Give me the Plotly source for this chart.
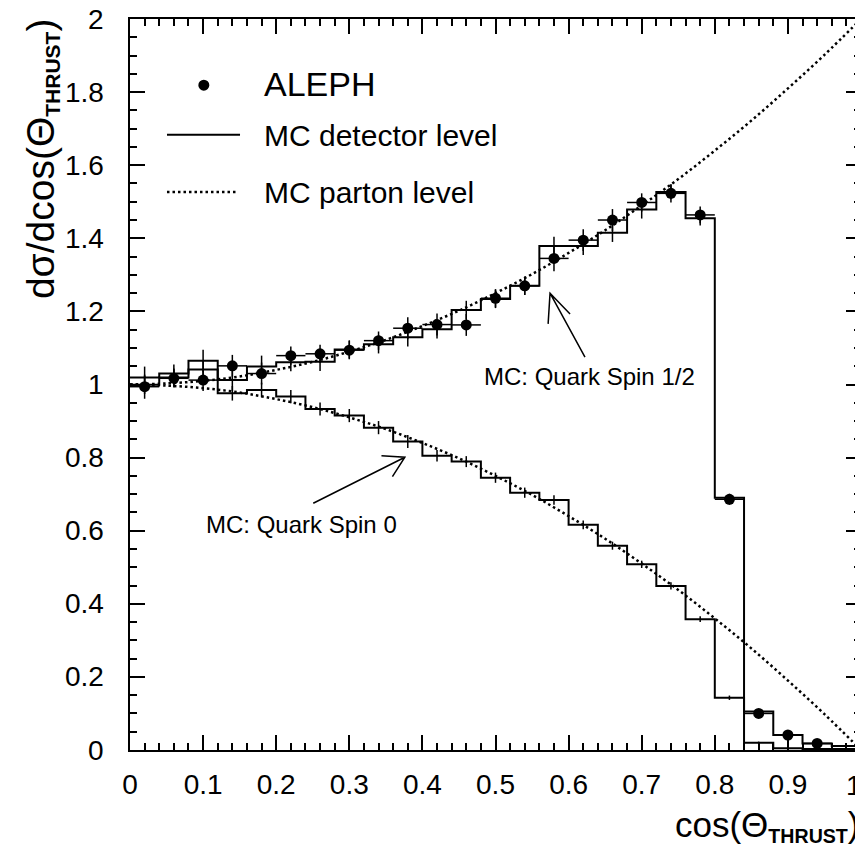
import plotly.graph_objects as go

# ---------------- data ----------------
bin_edges = [0.00, 0.04, 0.08, 0.12, 0.16, 0.20, 0.24, 0.28, 0.32, 0.36, 0.40, 0.44, 0.48,
             0.52, 0.56, 0.60, 0.64, 0.68, 0.72, 0.76, 0.80, 0.84, 0.88, 0.92, 0.96, 1.00]
bin_centers = [0.02, 0.06, 0.10, 0.14, 0.18, 0.22, 0.26, 0.30, 0.34, 0.38, 0.42, 0.46, 0.50,
               0.54, 0.58, 0.62, 0.66, 0.70, 0.74, 0.78, 0.82, 0.86, 0.90, 0.94, 0.98]

# ALEPH data points
aleph_x = [0.02, 0.06, 0.10, 0.14, 0.18, 0.22, 0.26, 0.30, 0.34, 0.38, 0.42, 0.46,
           0.50, 0.54, 0.58, 0.62, 0.66, 0.70, 0.74, 0.78, 0.82, 0.86, 0.90, 0.94]
aleph_y = [0.994, 1.017, 1.012, 1.051, 1.030, 1.079, 1.084, 1.094, 1.120, 1.154, 1.164, 1.163,
           1.236, 1.270, 1.345, 1.395, 1.450, 1.498, 1.523, 1.464, 0.686, 0.100, 0.041, 0.018]
aleph_err = [0.033, 0.025, 0.03, 0.03, 0.03, 0.025, 0.025, 0.025, 0.025, 0.03, 0.03, 0.03,
             0.025, 0.025, 0.035, 0.03, 0.03, 0.025, 0.025, 0.023, 0.015, 0.01, 0.008, 0.006]

# MC detector level, quark spin 1/2
mc_det_spin_half = [1.019, 1.030, 1.065, 1.012, 1.049, 1.061, 1.062, 1.096, 1.110, 1.129,
                    1.151, 1.204, 1.234, 1.270, 1.379, 1.379, 1.415, 1.479, 1.527, 1.455,
                    0.690, 0.105, 0.041, 0.018, 0.011]
mc_det_spin_half_err = [0.03, 0.025, 0.03, 0.03, 0.03, 0.025, 0.025, 0.025, 0.025, 0.025,
                        0.025, 0.025, 0.025, 0.025, 0.025, 0.025, 0.025, 0.025, 0.02, 0.02,
                        0.01, 0.006, 0.004, 0.003, 0.002]

# MC detector level, quark spin 0
mc_det_spin_zero = [0.999, 1.019, 1.041, 0.976, 0.985, 0.967, 0.933, 0.915, 0.882, 0.844,
                    0.805, 0.789, 0.745, 0.704, 0.684, 0.616, 0.559, 0.508, 0.449, 0.358,
                    0.143, 0.020, 0.005, 0.003, 0.003]
mc_det_spin_zero_err = [0.025, 0.025, 0.025, 0.02, 0.02, 0.018, 0.018, 0.018, 0.018, 0.018,
                        0.016, 0.015, 0.014, 0.014, 0.013, 0.012, 0.011, 0.01, 0.01, 0.008,
                        0.006, 0.003, 0.002, 0.001, 0.001]

# MC parton level curves
parton_x = [0.00, 0.05, 0.10, 0.15, 0.20, 0.25, 0.30, 0.35, 0.40, 0.45, 0.50,
            0.55, 0.60, 0.65, 0.70, 0.75, 0.80, 0.85, 0.90, 0.95, 1.00]
parton_spin_half = [1.000, 1.003, 1.010, 1.022, 1.040, 1.062, 1.090, 1.122, 1.160, 1.202, 1.250,
                    1.302, 1.360, 1.422, 1.490, 1.562, 1.640, 1.722, 1.810, 1.902, 2.000]
parton_spin_zero = [1.000, 0.997, 0.990, 0.978, 0.960, 0.938, 0.910, 0.878, 0.840, 0.798, 0.750,
                    0.698, 0.640, 0.578, 0.510, 0.438, 0.360, 0.278, 0.190, 0.098, 0.000]

x_tickvals = [0, 0.1, 0.2, 0.3, 0.4, 0.5, 0.6, 0.7, 0.8, 0.9, 1.0]
x_ticktext = ["0", "0.1", "0.2", "0.3", "0.4", "0.5", "0.6", "0.7", "0.8", "0.9", "1"]
y_tickvals = [0, 0.2, 0.4, 0.6, 0.8, 1.0, 1.2, 1.4, 1.6, 1.8, 2.0]
y_ticktext = ["0", "0.2", "0.4", "0.6", "0.8", "1", "1.2", "1.4", "1.6", "1.8", "2"]

FONT = "Liberation Sans, Arial, sans-serif"
BLACK = "black"
DOT = "2.5px,3px"

fig = go.Figure()

# parton level dotted curves
for ys in (parton_spin_half, parton_spin_zero):
    fig.add_trace(go.Scatter(x=parton_x, y=ys, mode="lines",
                             line=dict(color=BLACK, width=2.5, dash=DOT, shape="spline"),
                             showlegend=False, hoverinfo="skip"))

# detector level histograms
for vals, errs in ((mc_det_spin_half, mc_det_spin_half_err), (mc_det_spin_zero, mc_det_spin_zero_err)):
    fig.add_trace(go.Scatter(x=bin_edges, y=vals + [vals[-1]], mode="lines",
                             line=dict(color=BLACK, width=2, shape="hv"),
                             showlegend=False, hoverinfo="skip"))
    fig.add_trace(go.Scatter(x=bin_centers, y=vals, mode="markers",
                             marker=dict(size=1, color=BLACK, opacity=0),
                             error_y=dict(type="data", array=errs, color=BLACK, thickness=1.5, width=0),
                             showlegend=False, hoverinfo="skip"))

# ALEPH points
fig.add_trace(go.Scatter(x=aleph_x, y=aleph_y, mode="markers",
                         marker=dict(size=11, color=BLACK, symbol="circle"),
                         error_y=dict(type="data", array=aleph_err, color=BLACK, thickness=1.5, width=0),
                         error_x=dict(type="constant", value=0.02, color=BLACK, thickness=1.5, width=0),
                         showlegend=False))

# ---------------- legend (drawn manually) ----------------
shapes = []
annotations = []
# ALEPH dot
shapes.append(dict(type="circle", xref="x", yref="y", xsizemode="pixel", ysizemode="pixel",
                   xanchor=0.101, yanchor=1.819, x0=-5.5, x1=5.5, y0=-5.5, y1=5.5,
                   fillcolor=BLACK, line=dict(color=BLACK, width=0)))
annotations.append(dict(x=0.180, y=1.822, xref="x", yref="y", text="ALEPH", showarrow=False,
                        xanchor="left", yanchor="middle", font=dict(family=FONT, size=34, color=BLACK)))
# detector level
shapes.append(dict(type="line", xref="x", yref="y", x0=0.0506, x1=0.1505, y0=1.683, y1=1.683,
                   line=dict(color=BLACK, width=2)))
annotations.append(dict(x=0.181, y=1.680, xref="x", yref="y", text="MC detector level", showarrow=False,
                        xanchor="left", yanchor="middle", font=dict(family=FONT, size=30, color=BLACK)))
# parton level
shapes.append(dict(type="line", xref="x", yref="y", x0=0.0506, x1=0.1464, y0=1.527, y1=1.527,
                   line=dict(color=BLACK, width=2.5, dash=DOT)))
annotations.append(dict(x=0.181, y=1.524, xref="x", yref="y", text="MC parton level", showarrow=False,
                        xanchor="left", yanchor="middle", font=dict(family=FONT, size=30, color=BLACK)))

# ---------------- arrows and labels ----------------
def arrow_path(tail, head, arm1, arm2):
    return (f"M {tail[0]},{tail[1]} L {head[0]},{head[1]} "
            f"M {arm1[0]},{arm1[1]} L {head[0]},{head[1]} L {arm2[0]},{arm2[1]}")

shapes.append(dict(type="path", xref="x", yref="y",
                   path=arrow_path((0.6224, 1.075), (0.5746, 1.250), (0.572, 1.166), (0.602, 1.193)),
                   line=dict(color=BLACK, width=1.5)))
annotations.append(dict(x=0.481, y=1.023, xref="x", yref="y", text="MC: Quark Spin 1/2", showarrow=False,
                        xanchor="left", yanchor="middle", font=dict(family=FONT, size=24, color=BLACK)))

shapes.append(dict(type="path", xref="x", yref="y",
                   path=arrow_path((0.2507, 0.675), (0.376, 0.801), (0.344, 0.805), (0.359, 0.748)),
                   line=dict(color=BLACK, width=1.5)))
annotations.append(dict(x=0.101, y=0.616, xref="x", yref="y", text="MC: Quark Spin 0", showarrow=False,
                        xanchor="left", yanchor="middle", font=dict(family=FONT, size=24, color=BLACK)))

# y tick labels (placed as text so they sit at the reference distance from the axis)
for v, t in zip(y_tickvals, y_ticktext):
    annotations.append(dict(x=-0.0325, y=v, xref="paper", yref="y", text=t, showarrow=False,
                            xanchor="right", yanchor="middle",
                            font=dict(family=FONT, size=28, color=BLACK)))
# last x tick label sits at the right edge of the page
annotations.append(dict(x=1.0035, y=-0.048, xref="paper", yref="paper", text=x_ticktext[-1],
                        showarrow=False, xanchor="right", yanchor="middle",
                        font=dict(family=FONT, size=28, color=BLACK)))

# axis titles
sub = '<span style="font-size:28px"><sub><b>THRUST</b></sub></span>'
annotations.append(dict(x=0.743, y=-0.104, xref="paper", yref="paper",
                        text="cos(Θ" + sub + ")", showarrow=False,
                        xanchor="left", yanchor="middle", font=dict(family=FONT, size=35, color=BLACK)))
suby = '<span style="font-size:30px"><sub><b>THRUST</b></sub></span>'
annotations.append(dict(x=-0.121, y=1.002, xref="paper", yref="paper", textangle=-90,
                        text="dσ/dcos(Θ" + suby + ")", showarrow=False,
                        xanchor="center", yanchor="top", font=dict(family=FONT, size=39, color=BLACK)))

axis_common = dict(showline=True, linewidth=2, linecolor=BLACK, mirror="ticks",
                   ticks="inside", tickwidth=1.5, tickcolor=BLACK, ticklen=15,
                   showgrid=False, zeroline=False, automargin=False,
                   tickfont=dict(family=FONT, size=28, color=BLACK))

fig.update_xaxes(range=[0, 1], tickvals=x_tickvals, ticktext=x_ticktext[:-1] + [""], ticklabelstandoff=8,
                 minor=dict(dtick=0.02, tick0=0, ticks="inside", ticklen=7, tickwidth=1.5, tickcolor=BLACK,
                            showgrid=False),
                 **axis_common)
fig.update_yaxes(range=[0, 2], tickvals=y_tickvals, showticklabels=False,
                 minor=dict(dtick=0.05, tick0=0, ticks="inside", ticklen=7, tickwidth=1.5, tickcolor=BLACK,
                            showgrid=False),
                 **axis_common)

# the page adds an 8px body margin, so the figure is 8px smaller than the window
fig.update_layout(width=855, height=845,
                  margin=dict(l=122, r=2, t=11, b=103, pad=0),
                  paper_bgcolor="white", plot_bgcolor="white",
                  shapes=shapes, annotations=annotations, showlegend=False)

fig.write_html("out.html")
